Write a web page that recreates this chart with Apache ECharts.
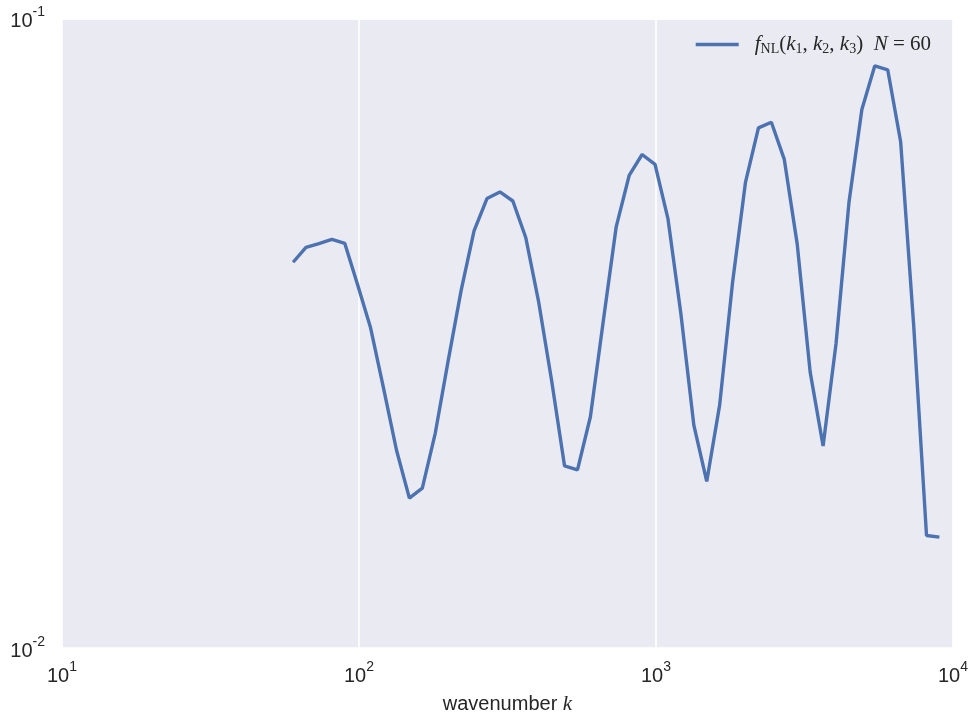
<!DOCTYPE html>
<html>
<head>
<meta charset="utf-8">
<script src="https://cdn.jsdelivr.net/npm/echarts@6/dist/echarts.min.js"></script>
<style>
  html, body { margin: 0; padding: 0; background: #ffffff; }
  #chart { width: 971px; height: 720px; }
</style>
</head>
<body>
<div id="chart"></div>
<script>
// Wavenumbers (log-spaced sample points)
const wavenumbers = [
  60, 66.3, 73.3, 81.0, 89.6, 99.0, 109.4, 121.0, 133.7, 147.8,
  163.4, 180.6, 199.7, 220.7, 244.0, 269.7, 298.2, 329.6, 364.3, 402.8,
  445.2, 492.2, 544.1, 601.4, 664.8, 734.8, 812.3, 897.9, 992.6, 1097,
  1213, 1341, 1482, 1638, 1811, 2002, 2213, 2446, 2704, 2989,
  3304, 3653, 4038, 4464, 4934, 5454, 6029, 6665, 7368, 8145, 9000
];

// f_NL(k1, k2, k3) for N = 60
const fnlValues = [
  0.04100, 0.04329, 0.04391, 0.04457, 0.04392, 0.03773, 0.03226, 0.02584, 0.02063, 0.01730,
  0.01795, 0.02193, 0.02861, 0.03696, 0.04598, 0.05175, 0.05302, 0.05130, 0.04489, 0.03543,
  0.02660, 0.01946, 0.01918, 0.02330, 0.03310, 0.04672, 0.05632, 0.06081, 0.05864, 0.04811,
  0.03395, 0.02260, 0.01839, 0.02431, 0.03811, 0.05497, 0.06704, 0.06842, 0.05972, 0.04381,
  0.02746, 0.02094, 0.03043, 0.05100, 0.07166, 0.08410, 0.08290, 0.06370, 0.03273, 0.01509, 0.01500
];

const seriesName = 'fnl';

const chart = echarts.init(document.getElementById('chart'), null, { renderer: 'canvas' });

const sans = '"Liberation Sans", Arial, sans-serif';
const serif = '"Liberation Serif", "DejaVu Serif", serif';

function powerLabel(value) {
  const e = Math.round(Math.log10(value));
  return '{b|10}{s|' + e + '}';
}

const tickRich = {
  b: { fontFamily: sans, fontSize: 20, color: '#262626', lineHeight: 26, verticalAlign: 'bottom' },
  s: { fontFamily: sans, fontSize: 14, color: '#262626', lineHeight: 26, verticalAlign: 'top' }
};

const legendRich = {
  f: { fontFamily: serif, fontStyle: 'italic', fontSize: 21, color: '#262626', lineHeight: 28, verticalAlign: 'middle', padding: [0, 0, 0, 11] },
  it: { fontFamily: serif, fontStyle: 'italic', fontSize: 21, color: '#262626', lineHeight: 28, verticalAlign: 'middle' },
  up: { fontFamily: serif, fontSize: 21, color: '#262626', lineHeight: 28, verticalAlign: 'middle' },
  sub: { fontFamily: serif, fontSize: 14, color: '#262626', lineHeight: 28, verticalAlign: 'bottom', padding: [0, 0, 2, 0] }
};

chart.setOption({
  animation: false,
  backgroundColor: '#ffffff',
  grid: {
    left: 62, right: 18, top: 18.5, bottom: 69.5,
    show: true, backgroundColor: '#EAEAF2', borderWidth: 0
  },
  legend: {
    show: true,
    right: 35, top: 29,
    icon: 'rect',
    itemWidth: 43, itemHeight: 3.5,
    data: [seriesName],
    formatter: function () {
      return '{f|f}{sub|NL}{up|(}{it|k}{sub|1}{up|, }{it|k}{sub|2}{up|, }{it|k}{sub|3}{up|)  }{it|N}{up| = 60}';
    },
    textStyle: { rich: legendRich }
  },
  xAxis: {
    type: 'log',
    logBase: 10,
    min: 10,
    max: 10000,
    name: '{s|wavenumber }{k|k}',
    nameLocation: 'middle',
    nameGap: 46,
    nameTextStyle: {
      rich: {
        s: { fontFamily: sans, fontSize: 20, color: '#262626' },
        k: { fontFamily: serif, fontStyle: 'italic', fontSize: 21, color: '#262626' }
      }
    },
    axisLine: { show: false },
    axisTick: { show: false },
    axisLabel: { formatter: powerLabel, margin: 12, rich: tickRich },
    splitLine: { show: true, lineStyle: { color: '#ffffff', width: 1.6 } }
  },
  yAxis: {
    type: 'log',
    logBase: 10,
    min: 0.01,
    max: 0.1,
    axisLine: { show: false },
    axisTick: { show: false },
    axisLabel: { formatter: powerLabel, margin: 17, rich: tickRich },
    splitLine: { show: true, lineStyle: { color: '#ffffff', width: 1.6 } }
  },
  series: [{
    name: seriesName,
    type: 'line',
    data: wavenumbers.map((k, i) => [k, fnlValues[i]]),
    showSymbol: false,
    symbol: 'none',
    lineStyle: { color: '#4C72B0', width: 3.4 },
    itemStyle: { color: '#4C72B0' }
  }]
});
</script>
</body>
</html>
